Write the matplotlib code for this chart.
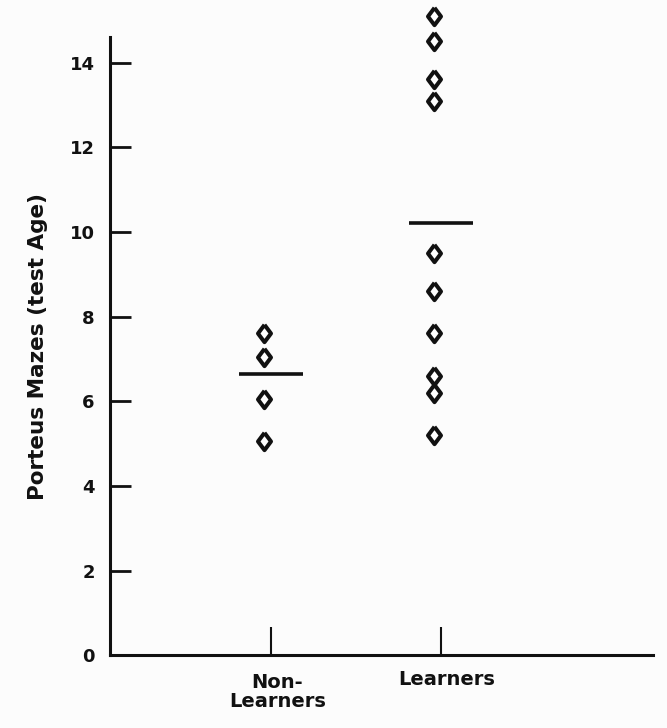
import matplotlib.pyplot as plt
import matplotlib.transforms as mtransforms

groups = ['Non-\nLearners', 'Learners']
non_learners = [7.6, 7.05, 6.05, 5.05]
learners = [15.1, 14.5, 13.6, 13.1, 9.5, 8.6, 7.6, 6.6, 6.2, 5.2]
group_means = [6.65, 10.2]
y_ticks = [0, 2, 4, 6, 8, 10, 12, 14]

plt.rcParams['font.family'] = ['DejaVu Sans']
plt.rcParams['font.weight'] = 'bold'

ink = '#111111'
fig = plt.figure(figsize=(6.67, 7.28), dpi=100, facecolor='#fcfcfc')
ax = fig.add_axes([0.165, 0.100, 0.814, 0.849])
ax.set_facecolor('#fcfcfc')

# elongated open diamonds like the scanned figure
diamond = [(0, 1), (0.75, 0), (0, -1), (-0.75, 0), (0, 1)]

for i, vals in enumerate([non_learners, learners]):
    x = i + 1
    ax.plot([x - 0.04] * len(vals), vals, linestyle='none', marker=diamond,
            markersize=12.5, markerfacecolor='white', markeredgecolor=ink,
            markeredgewidth=2.9, clip_on=False, zorder=3)
    ax.plot([x - 0.19, x + 0.19], [group_means[i]] * 2, color=ink, lw=2.6,
            solid_capstyle='butt')

ax.set_xlim(0.05, 3.25)
ax.set_ylim(0, 14.6)
ax.set_yticks(y_ticks)
ax.set_xticks([1, 2])
ax.set_xticklabels([])

ax.tick_params(axis='y', direction='in', length=15, width=2, color=ink,
               labelsize=13, pad=11, labelcolor=ink)
ax.tick_params(axis='x', direction='in', length=20, width=1.5, color=ink)

# group labels under the axis; "Learners" sits a bit higher in the original
trans = ax.get_xaxis_transform()
offsets = [-13, -11]
for i, lab in enumerate(groups):
    t = mtransforms.offset_copy(trans, fig=fig, x=4.5, y=offsets[i],
                                units='points')
    ax.text(i + 1, 0, lab, transform=t, ha='center', va='top', fontsize=14,
            fontweight='bold', color=ink, linespacing=0.95)

for s in ['top', 'right']:
    ax.spines[s].set_visible(False)
for s in ['left', 'bottom']:
    ax.spines[s].set_linewidth(2.2)
    ax.spines[s].set_color(ink)

ax.set_ylabel('Porteus Mazes (test Age)', fontsize=15.5, fontweight='bold',
              color=ink, labelpad=16)

fig.savefig('out.png', dpi=100, facecolor=fig.get_facecolor())
